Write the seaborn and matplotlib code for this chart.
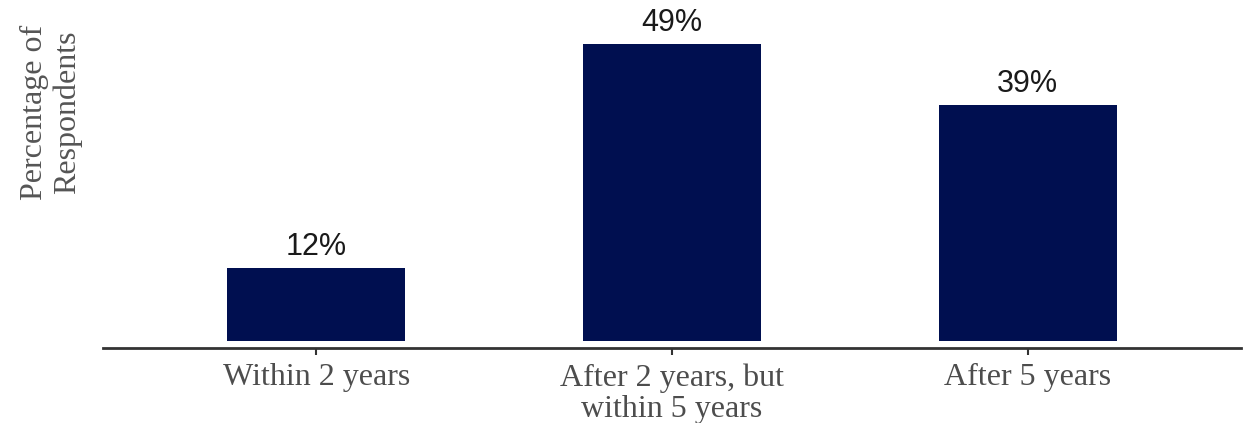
import matplotlib
matplotlib.use("Agg")
import matplotlib.pyplot as plt
import seaborn as sns
import pandas as pd

categories = ["Within 2 years", "After 2 years, but\nwithin 5 years", "After 5 years"]
values = [12, 49, 39]
labels = ["12%", "49%", "39%"]

df = pd.DataFrame({"cat": categories, "val": values})

sns.set_theme(style="white")
plt.rcParams['font.family'] = ['Liberation Serif', 'DejaVu Serif']

fig = plt.figure(figsize=(12.43, 4.23), dpi=100)
ax = fig.add_axes([103/1243, (423-348)/423, (1241-103)/1243, (348-26)/423])

sns.barplot(data=df, x="cat", y="val", color="#000F50", width=0.5,
            saturation=1, ax=ax, edgecolor="none")

for i, (v, lab) in enumerate(zip(values, labels)):
    ax.text(i, v + 1.0, lab, ha="center", va="bottom", fontsize=22,
            color="#1a1a1a", family=["Liberation Sans", "DejaVu Sans"])

ax.set_xlim(-0.6, 2.6)
ax.set_ylim(-1.15, 52)
ax.set_xlabel("")
ax.set_ylabel("Percentage of\nRespondents", fontsize=23, color="#555555",
              linespacing=1.15)
ax.yaxis.set_label_coords(-21/1138, (348-112)/322)
ax.set_yticks([])
for s in ["top", "right", "left"]:
    ax.spines[s].set_visible(False)
ax.spines["bottom"].set_color("#333333")
ax.spines["bottom"].set_linewidth(2)
ax.tick_params(axis="x", bottom=True, length=5, width=1.5, color="#333333",
               labelsize=23, labelcolor="#4d4d4d", pad=6)
for t in ax.get_xticklabels():
    t.set_linespacing(1.1)

fig.savefig("out.png", dpi=100)
